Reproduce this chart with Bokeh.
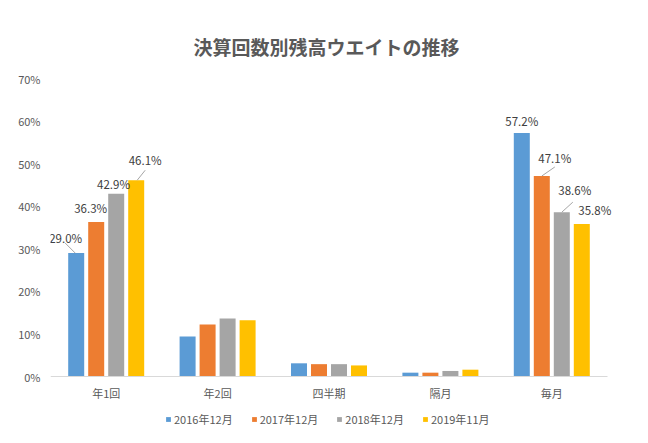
from bokeh.plotting import figure
from bokeh.models import (Range1d, FixedTicker, PrintfTickFormatter, Legend, LegendItem,
                          ColumnDataSource)
from bokeh.core.properties import value
from bokeh.embed import file_html
from bokeh.resources import INLINE

# ---- data ----
title_text = "決算回数別残高ウエイトの推移"
categories = ["年1回", "年2回", "四半期", "隔月", "毎月"]
series_names = ["2016年12月", "2017年12月", "2018年12月", "2019年11月"]
v2016 = [29.0, 9.4, 3.1, 0.9, 57.2]
v2017 = [36.3, 12.2, 2.9, 0.9, 47.1]
v2018 = [42.9, 13.6, 2.9, 1.3, 38.6]
v2019 = [46.1, 13.2, 2.6, 1.6, 35.8]
y_ticks = [0, 10, 20, 30, 40, 50, 60, 70]
labeled_categories = [0, 4]

# ---- styles / layout (pixel geometry of the canvas) ----
colors = ["#5B9BD5", "#ED7D31", "#A5A5A5", "#FFC000"]
FONT = "Noto Sans CJK JP"
W, H = 648, 443
PLOT_L, PLOT_R = 50, 607      # x pixel span of the category axis
Y0_PX, YTOP_PX = 376, 78      # pixel rows of 0% and 70%
ymax = 70
n = len(categories)
x_per_px = n / (PLOT_R - PLOT_L)
y_per_px = ymax / (Y0_PX - YTOP_PX)
bar_w = 16 * x_per_px
bar_step = 20 * x_per_px


def px_x(px):
    return -0.5 + (px - PLOT_L) * x_per_px


def px_y(py):
    return (Y0_PX - py) * y_per_px


# label offsets in pixels (dx right, dy up) per (category, series)
label_off = {
    (0, 0): (-10.5, 14.6), (0, 1): (-5.5, 13.5), (0, 2): (-2.7, 10.0), (0, 3): (9.0, 19.8),
    (4, 0): (0.0, 12.0), (4, 1): (13.0, 18.3), (4, 2): (13.0, 21.8), (4, 3): (13.0, 14.4),
}
# leader lines: start (dx, dy) and end (dx, dy) in pixels relative to bar top centre
leaders = {
    (0, 0): ((-1, 0), (-11, 10)),
    (0, 3): ((1, 0), (9, 10)),
    (4, 1): ((0, 0), (13, 9)),
    (4, 2): ((0, 0), (11, 10)),
}

p = figure(width=W, height=H, output_backend="svg", toolbar_location=None,
           x_range=Range1d(px_x(PLOT_L), px_x(W)), y_range=Range1d(px_y(H), px_y(0)),
           min_border_left=PLOT_L, min_border_right=0, min_border_top=0, min_border_bottom=0)
p.outline_line_color = None
p.xgrid.grid_line_color = None
p.ygrid.grid_line_color = None
p.background_fill_color = "white"
p.border_fill_color = "white"
p.xaxis.visible = False

# title
p.text(x=[px_x(326)], y=[px_y(46)], text=[title_text], text_align="center",
       text_baseline="middle", text_font=value(FONT), text_font_size="19px",
       text_font_style="bold", text_color="#595959")

all_vals = [v2016, v2017, v2018, v2019]
renderers = []
for k, vals in enumerate(all_vals):
    xs = [i + (k - 1.5) * bar_step for i in range(n)]
    src = ColumnDataSource(dict(x=xs, top=vals))
    r = p.vbar(x="x", top="top", width=bar_w, bottom=0, source=src,
               fill_color=colors[k], line_color=None)
    renderers.append(r)

# category axis: baseline and labels
p.segment(x0=[-0.5], y0=[0], x1=[n - 0.5], y1=[0], line_color="#D9D9D9", line_width=1)
p.text(x=list(range(n)), y=[px_y(392)] * n, text=categories, text_align="center",
       text_baseline="middle", text_font=value(FONT), text_font_size="11px",
       text_color="#595959")

# data labels
lx, ly, lt = [], [], []
for k, vals in enumerate(all_vals):
    for i in labeled_categories:
        bx = i + (k - 1.5) * bar_step
        dx, dy = label_off[(i, k)]
        lx.append(bx + dx * x_per_px)
        ly.append(vals[i] + dy * y_per_px)
        lt.append("%.1f%%" % vals[i])
p.text(x=lx, y=ly, text=lt, text_align="center", text_baseline="middle",
       text_font=value(FONT), text_font_size="11.5px", text_color="#404040")

# leader lines
x0s, y0s, x1s, y1s = [], [], [], []
for (i, k), ((sx, sy), (ex, ey)) in leaders.items():
    bx = i + (k - 1.5) * bar_step
    top = all_vals[k][i]
    x0s.append(bx + sx * x_per_px); y0s.append(top + sy * y_per_px)
    x1s.append(bx + ex * x_per_px); y1s.append(top + ey * y_per_px)
p.segment(x0=x0s, y0=y0s, x1=x1s, y1=y1s, line_color="#A6A6A6", line_width=1)

# value axis
p.yaxis.ticker = FixedTicker(ticks=y_ticks)
p.yaxis.formatter = PrintfTickFormatter(format="%d%%")
p.yaxis.axis_line_color = None
p.yaxis.major_tick_line_color = None
p.yaxis.minor_tick_line_color = None
p.yaxis.major_tick_out = 0
p.yaxis.major_label_standoff = 10
p.yaxis.major_label_text_font = FONT
p.yaxis.major_label_text_font_size = "11px"
p.yaxis.major_label_text_color = "#595959"

legend = Legend(items=[LegendItem(label=s, renderers=[r]) for s, r in zip(series_names, renderers)],
                orientation="horizontal", location=(115, 16),
                glyph_width=6, glyph_height=6, label_standoff=3, spacing=18,
                label_height=12, padding=0, margin=0,
                label_text_font=FONT, label_text_font_size="11px", label_text_color="#595959",
                background_fill_alpha=0, border_line_color=None)
p.add_layout(legend, "center")

open("out.html", "w").write(file_html(p, INLINE))
